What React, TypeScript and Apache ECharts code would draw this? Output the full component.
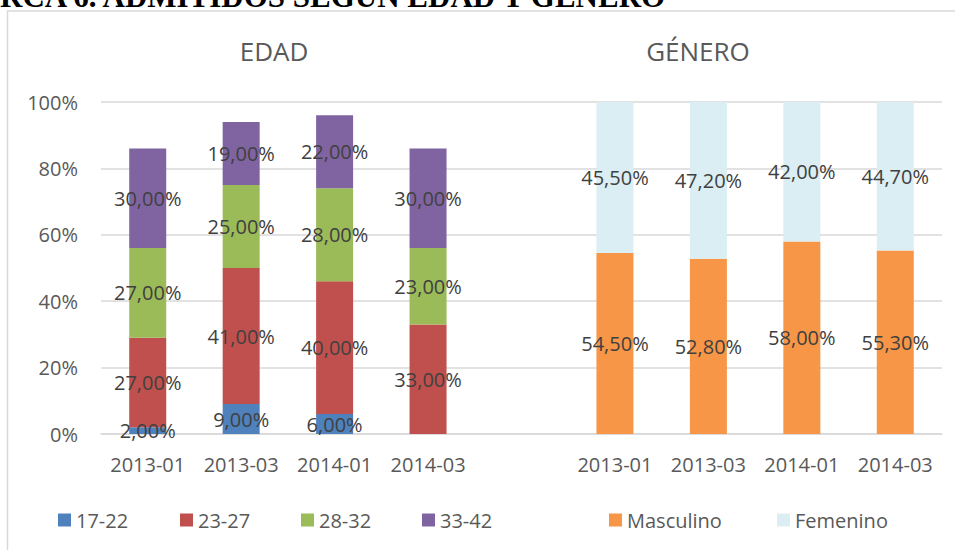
import React, { useEffect, useRef } from "react";
import * as echarts from "echarts";

const categories = ["2013-01", "2013-03", "2014-01", "2014-03", "", "2013-01", "2013-03", "2014-01", "2014-03"];
const age1722 = [2, 9, 6, 0];
const age2327 = [27, 41, 40, 33];
const age2832 = [27, 25, 28, 23];
const age3342 = [30, 19, 22, 30];
const masculino = [54.5, 52.8, 58, 55.3];
const femenino = [45.5, 47.2, 42, 44.7];
const yMin = 0;
const yMax = 100;
const yInterval = 20;

const FONT = "'Open Sans', 'Noto Sans', sans-serif";

const edadData = (v: number[]) => [...v, "-", "-", "-", "-", "-"];
const generoData = (v: number[]) => ["-", "-", "-", "-", "-", ...v];

const fmt = (p: any) => {
  const v = Number(p.value);
  if (!v) return "";
  return v.toFixed(2).replace(".", ",") + "%";
};

const mkSeries = (name: string, data: any[], color: string) => ({
  name,
  type: "bar",
  stack: "total",
  barWidth: 37,
  data,
  itemStyle: { color },
  label: {
    show: true,
    position: "inside",
    formatter: fmt,
    color: "#404040",
    fontSize: 20,
    fontFamily: FONT,
  },
  emphasis: { disabled: true },
});

const legendPos: [string, number][] = [
  ["17-22", 58],
  ["23-27", 180],
  ["28-32", 301],
  ["33-42", 422],
  ["Masculino", 609],
  ["Femenino", 777],
];

export default function App() {
  const ref = useRef<HTMLDivElement>(null);
  useEffect(() => {
    if (!ref.current) return;
    const chart = echarts.init(ref.current, null, { renderer: "svg" });
    chart.setOption({
      animation: false,
      backgroundColor: "#ffffff",
      graphic: [
        {
          type: "rect",
          shape: { x: 7.5, y: 11, width: 1000, height: 600 },
          style: { fill: "none", stroke: "#d9d9d9", lineWidth: 1.5 },
          silent: true,
        },
        {
          type: "text",
          x: 0,
          y: -4,
          style: {
            text: "RCA 6. ADMITIDOS SEGÚN EDAD Y GÉNERO",
            font: "bold 31px 'Liberation Serif', serif",
            fill: "#000000",
            textVerticalAlign: "middle",
          },
        },
        {
          type: "text",
          x: 274,
          y: 51,
          style: {
            text: "EDAD",
            font: `26px ${FONT}`,
            fill: "#595959",
            textAlign: "center",
            textVerticalAlign: "middle",
          },
        },
        {
          type: "text",
          x: 698,
          y: 51,
          style: {
            text: "GÉNERO",
            font: `26px ${FONT}`,
            fill: "#595959",
            textAlign: "center",
            textVerticalAlign: "middle",
          },
        },
      ],
      legend: legendPos.map(([name, left]) => ({
        data: [name],
        left,
        top: 510,
        padding: 0,
        itemWidth: 13,
        itemHeight: 13,
        itemGap: 5,
        icon: "rect",
        selectedMode: false,
        textStyle: { fontSize: 20, color: "#595959", fontFamily: FONT },
      })),
      grid: { left: 101, right: 13, top: 102, bottom: 116, containLabel: false },
      xAxis: {
        type: "category",
        data: categories,
        axisLine: { show: true, lineStyle: { color: "#d9d9d9", width: 1.5 } },
        axisTick: { show: false },
        axisLabel: { color: "#595959", fontSize: 20, fontFamily: FONT, margin: 20, interval: 0 },
      },
      yAxis: {
        type: "value",
        min: yMin,
        max: yMax,
        interval: yInterval,
        axisLine: { show: false },
        axisTick: { show: false },
        splitLine: { lineStyle: { color: "#d9d9d9", width: 1.5 } },
        axisLabel: {
          color: "#595959",
          fontSize: 20,
          fontFamily: FONT,
          margin: 23,
          formatter: "{value}%",
        },
      },
      series: [
        mkSeries("17-22", edadData(age1722), "#4F81BD"),
        mkSeries("23-27", edadData(age2327), "#C0504D"),
        mkSeries("28-32", edadData(age2832), "#9BBB59"),
        mkSeries("33-42", edadData(age3342), "#8064A2"),
        mkSeries("Masculino", generoData(masculino), "#F79646"),
        mkSeries("Femenino", generoData(femenino), "#DAEEF3"),
      ],
    });
    return () => chart.dispose();
  }, []);
  return (
    <div
      ref={ref}
      style={{ position: "absolute", left: 0, top: 0, width: 955, height: 550 }}
    />
  );
}
